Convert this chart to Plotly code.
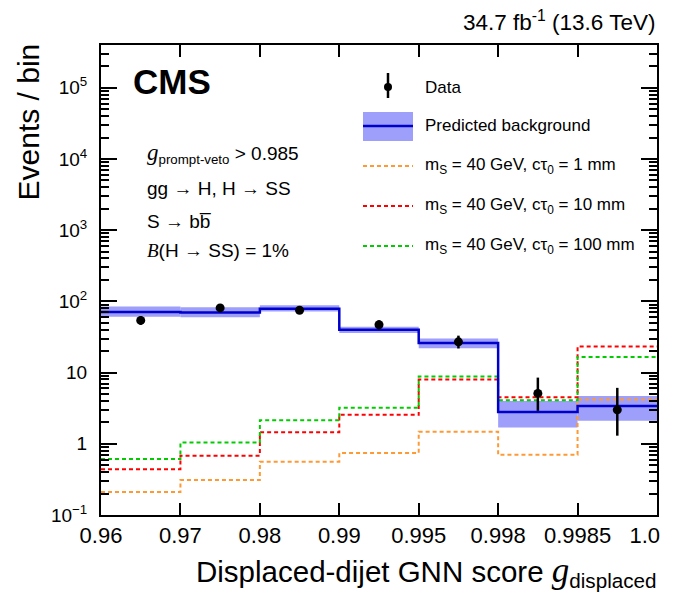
import plotly.graph_objects as go

bin_edges = ["0.96", "0.97", "0.98", "0.99", "0.995", "0.998", "0.9985", "1.0\u00a0\u00a0\u00a0\u00a0"]
bkg = [71, 70, 79, 40, 26, 2.8, 3.4]
bkg_up = [85, 83, 88, 44, 30, 4.0, 4.7]
bkg_dn = [61, 60, 72, 36, 22, 1.7, 2.1]
data = [54, 81, 75, 47, 27, 5.1, 3.0]
data_err_up = [7.8, 9.5, 9.2, 7.3, 6.0, 3.4, 3.1]
data_err_dn = [7.0, 8.5, 8.2, 6.5, 5.2, 2.2, 1.7]
sig_1mm = [0.21, 0.31, 0.56, 0.74, 1.48, 0.70, 4.2]
sig_10mm = [0.44, 0.68, 1.45, 2.55, 8.0, 4.5, 23.3]
sig_100mm = [0.61, 1.04, 2.14, 3.2, 8.8, 4.1, 16.6]

FONT = "Liberation Sans, Arial, sans-serif"
nb = len(bkg)
edges_x = list(range(nb + 1))
centers = [i + 0.5 for i in range(nb)]

fig = go.Figure()

# uncertainty band
fig.add_trace(go.Bar(
    x=centers, y=[u - d for u, d in zip(bkg_up, bkg_dn)], base=bkg_dn,
    width=1.0, marker=dict(color="rgba(125,125,250,0.75)", line=dict(width=0)),
    showlegend=False, hoverinfo="skip"))

def step(vals, color, dash, width):
    fig.add_trace(go.Scatter(
        x=edges_x, y=list(vals) + [vals[-1]], mode="lines", line_shape="hv",
        line=dict(color=color, dash=dash, width=width), showlegend=False))

step(sig_1mm, "#FF9933", "4px,3px", 2)
step(sig_10mm, "#FF0000", "4px,3px", 2)
step(sig_100mm, "#00CC00", "4px,3px", 2)
step(bkg, "#0000CC", "solid", 2.5)

fig.add_trace(go.Scatter(
    x=centers, y=data, mode="markers",
    marker=dict(color="black", size=9),
    error_y=dict(type="data", symmetric=False, array=data_err_up, arrayminus=data_err_dn,
                 color="black", thickness=2.5, width=0),
    showlegend=False))

# axes
maj = [0.1, 1, 10, 100, 1e3, 1e4, 1e5]
majtxt = ["10<sup>\u22121</sup>", "1", "10", "10<sup>2</sup>", "10<sup>3</sup>", "10<sup>4</sup>", "10<sup>5</sup>"]
minor_vals = [m * 10 ** e for e in range(-1, 6) for m in range(2, 10)]

fig.update_xaxes(range=[0, nb], tickmode="array", tickvals=edges_x, ticktext=bin_edges,
                 ticks="inside", ticklen=12, tickwidth=1.5, tickcolor="black",
                 showline=True, linecolor="black", linewidth=2, mirror="ticks",
                 showgrid=False, zeroline=False, automargin=False, ticklabeloverflow="allow",
                 tickfont=dict(family=FONT, size=22, color="black"))
fig.update_yaxes(type="log", range=[-1, 5.6], tickmode="array", tickvals=maj, ticktext=majtxt,
                 ticks="inside", ticklen=16, tickwidth=1.5, tickcolor="black",
                 minor=dict(tickmode="array", tickvals=minor_vals, ticks="inside", ticklen=8,
                            tickwidth=1.5, tickcolor="black"),
                 showline=True, linecolor="black", linewidth=2, mirror="ticks",
                 showgrid=False, zeroline=False, automargin=False, ticklabelstandoff=8,
                 tickfont=dict(family=FONT, size=19, color="black"))

# page has an 8px body margin: figure is sized so the plot lands where the reference has it
OFF = 8
W, H = 673 - OFF, 601 - 2 * OFF
X0, X1, Y0, Y1 = 101, 657, 45, 515   # plot area in reference pixels
L, R, T, B = X0 - OFF, W - (X1 - OFF), Y0 - OFF, H - (Y1 - OFF)

def px(x):
    return (x - X0) / (X1 - X0)

def py(y):
    return (Y1 - y) / (Y1 - Y0)

shapes = []
ann = []

# legend glyphs
shapes.append(dict(type="line", xref="paper", yref="paper", x0=px(388), x1=px(388), y0=py(73), y1=py(98),
                   line=dict(color="black", width=2.5)))
shapes.append(dict(type="circle", xref="paper", yref="paper", x0=px(384), x1=px(392), y0=py(83), y1=py(91),
                   fillcolor="black", line=dict(color="black", width=0)))
shapes.append(dict(type="rect", xref="paper", yref="paper", x0=px(363), x1=px(413), y0=py(112), y1=py(141),
                   fillcolor="rgba(125,125,250,0.75)", line=dict(width=0)))
shapes.append(dict(type="line", xref="paper", yref="paper", x0=px(363), x1=px(413), y0=py(126), y1=py(126),
                   line=dict(color="#0000CC", width=2.5)))
for yy, col in [(166, "#FF9933"), (206, "#FF0000"), (246, "#00CC00")]:
    shapes.append(dict(type="line", xref="paper", yref="paper", x0=px(363), x1=px(413), y0=py(yy), y1=py(yy),
                       line=dict(color=col, width=2, dash="4px,3px")))

leg_texts = [(87, "Data"), (126, "Predicted background"),
             (166, "m<sub>S</sub> = 40 GeV, c\u03c4<sub>0</sub> = 1 mm"),
             (206, "m<sub>S</sub> = 40 GeV, c\u03c4<sub>0</sub> = 10 mm"),
             (246, "m<sub>S</sub> = 40 GeV, c\u03c4<sub>0</sub> = 100 mm")]
for yy, t in leg_texts:
    ann.append(dict(xref="paper", yref="paper", x=px(423), y=py(yy), xanchor="left", yanchor="middle",
                    text=t, showarrow=False, font=dict(family=FONT, size=17, color="black")))

ann.append(dict(xref="paper", yref="paper", x=px(131), y=py(82), xanchor="left", yanchor="middle",
                text="<b>CMS</b>", showarrow=False, font=dict(family=FONT, size=35, color="black")))

info = [(153, "<span style='font-family:Liberation Serif;font-style:italic;font-size:23px'>g</span><sub>prompt-veto</sub> > 0.985"),
        (188, "gg \u2192 H, H \u2192 SS"),
        (221, "S \u2192 bb\u0305"),
        (250, "<span style='font-family:Liberation Serif;font-style:italic'>B</span>(H \u2192 SS) = 1%")]
for yy, t in info:
    ann.append(dict(xref="paper", yref="paper", x=px(145), y=py(yy), xanchor="left", yanchor="middle",
                    text=t, showarrow=False, font=dict(family=FONT, size=19, color="black")))

# lumi label
ann.append(dict(xref="paper", yref="paper", x=px(657), y=py(21), xanchor="right", yanchor="middle",
                text="34.7 fb<sup>-1</sup> (13.6 TeV)", showarrow=False,
                font=dict(family=FONT, size=22.5, color="black")))

# axis titles (ROOT style: aligned to the axis ends)
ann.append(dict(xref="paper", yref="paper", x=px(28), y=py(42), xanchor="center", yanchor="top",
                textangle=-90, text="Events / bin", showarrow=False,
                font=dict(family=FONT, size=30, color="black")))
ann.append(dict(xref="paper", yref="paper", x=px(658), y=py(549), xanchor="right", yanchor="top",
                text="Displaced-dijet GNN score <span style='font-family:Liberation Serif;font-style:italic;font-size:35px'>g</span><sub>displaced</sub>",
                showarrow=False, font=dict(family=FONT, size=29.5, color="black")))

fig.update_layout(width=W, height=H, margin=dict(l=L, r=R, t=T, b=B),
                  plot_bgcolor="white", paper_bgcolor="white", barmode="overlay",
                  shapes=shapes, annotations=ann, showlegend=False)

fig.write_html("out.html")
